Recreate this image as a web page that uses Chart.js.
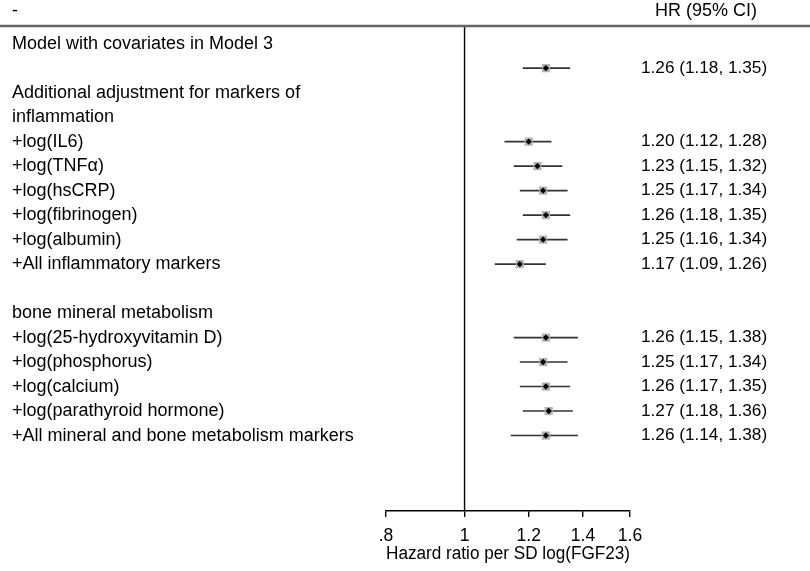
<!DOCTYPE html>
<html>
<head>
<meta charset="utf-8">
<script src="https://cdn.jsdelivr.net/npm/chart.js@4"></script>
<style>
  body { margin: 0; background: #fff; }
  #wrap { width: 810px; height: 571px; }
</style>
</head>
<body>
<div id="wrap"><canvas id="forest"></canvas></div>
<script>
// row text on the left, one entry per row (blank rows keep the spacing)
const rowLabels = [
    'Model with covariates in Model 3',
    '',
    'Additional adjustment for markers of',
    'inflammation',
    '+log(IL6)',
    '+log(TNFα)',
    '+log(hsCRP)',
    '+log(fibrinogen)',
    '+log(albumin)',
    '+All inflammatory markers',
    '',
    'bone mineral metabolism',
    '+log(25-hydroxyvitamin D)',
    '+log(phosphorus)',
    '+log(calcium)',
    '+log(parathyroid hormone)',
    '+All mineral and bone metabolism markers'
];

// rows that carry an estimate
const estRows = [1, 4, 5, 6, 7, 8, 9, 12, 13, 14, 15, 16];
const hrValues = [1.26, 1.20, 1.23, 1.25, 1.26, 1.25, 1.17, 1.26, 1.25, 1.26, 1.27, 1.26];
const ciLower = [1.18, 1.12, 1.15, 1.17, 1.18, 1.16, 1.09, 1.15, 1.17, 1.17, 1.18, 1.14];
const ciUpper = [1.35, 1.28, 1.32, 1.34, 1.35, 1.34, 1.26, 1.38, 1.34, 1.35, 1.36, 1.38];

const tickValues = [0.8, 1, 1.2, 1.4, 1.6];
const tickLabels = ['.8', '1', '1.2', '1.4', '1.6'];

const FONT = '"Liberation Sans", Arial, Helvetica, sans-serif';
const Y_MIN = -0.72, Y_MAX = 19.08;

const ciSets = estRows.map((r, i) => ({
    type: 'line',
    data: [{ x: ciLower[i], y: r }, { x: ciUpper[i], y: r }],
    borderColor: '#333',
    borderWidth: 1.6,
    pointRadius: 0,
    order: 3
}));

const nullLine = {
    type: 'line',
    data: [{ x: 1, y: Y_MIN }, { x: 1, y: Y_MAX }],
    borderColor: '#000',
    borderWidth: 1.4,
    pointRadius: 0,
    clip: false,
    order: 4
};

const boxes = {
    type: 'scatter',
    data: estRows.map((r, i) => ({ x: hrValues[i], y: r })),
    pointStyle: 'rect',
    pointRadius: 5.8,
    backgroundColor: '#b4b4b4',
    borderWidth: 0,
    order: 2
};

const dots = {
    type: 'scatter',
    data: estRows.map((r, i) => ({ x: hrValues[i], y: r })),
    pointStyle: 'rectRot',
    pointRadius: 3.2,
    backgroundColor: '#000',
    borderWidth: 0,
    order: 1
};

const textPlugin = {
    id: 'forestText',
    afterDraw(chart) {
        const { ctx, chartArea, scales } = chart;
        const y = scales.y;
        ctx.save();
        // rule under the header
        ctx.strokeStyle = '#666';
        ctx.lineWidth = 2.5;
        ctx.beginPath();
        ctx.moveTo(0, chartArea.top);
        ctx.lineTo(chart.width, chartArea.top);
        ctx.stroke();

        ctx.fillStyle = '#000';
        ctx.textBaseline = 'middle';
        ctx.textAlign = 'left';
        ctx.font = '18px ' + FONT;
        ctx.fillText('-', 12, 11);
        ctx.fillText('HR (95% CI)', 655, 11);

        rowLabels.forEach((lbl, r) => {
            if (lbl) ctx.fillText(lbl, 12, y.getPixelForValue(r));
        });

        ctx.font = '17.2px ' + FONT;
        estRows.forEach((r, i) => {
            const txt = `${hrValues[i].toFixed(2)} (${ciLower[i].toFixed(2)}, ${ciUpper[i].toFixed(2)})`;
            ctx.fillText(txt, 641, y.getPixelForValue(r));
        });
        ctx.restore();
    }
};

new Chart(document.getElementById('forest'), {
    data: { datasets: [...ciSets, nullLine, boxes, dots] },
    options: {
        responsive: true,
        maintainAspectRatio: false,
        animation: false,
        layout: { padding: { left: 386, right: 180, top: 26, bottom: 8 } },
        plugins: { legend: { display: false }, tooltip: { enabled: false } },
        scales: {
            x: {
                type: 'logarithmic',
                min: 0.8,
                max: 1.6,
                afterBuildTicks: scale => {
                    scale.ticks = tickValues.map(v => ({ value: v }));
                },
                ticks: {
                    autoSkip: false,
                    maxRotation: 0,
                    padding: 9,
                    color: '#000',
                    font: { family: FONT, size: 17.5 },
                    callback: (val, i) => tickLabels[i]
                },
                grid: { drawOnChartArea: false, drawTicks: true, tickLength: 6, color: '#000', lineWidth: 1.4 },
                border: { display: true, color: '#000', width: 1.4 },
                title: {
                    display: true,
                    text: 'Hazard ratio per SD log(FGF23)',
                    color: '#000',
                    font: { family: FONT, size: 18, lineHeight: 1 },
                    padding: { top: -11, bottom: 0 }
                }
            },
            y: {
                type: 'linear',
                reverse: true,
                min: Y_MIN,
                max: Y_MAX,
                display: false
            }
        }
    },
    plugins: [textPlugin]
});
</script>
</body>
</html>
